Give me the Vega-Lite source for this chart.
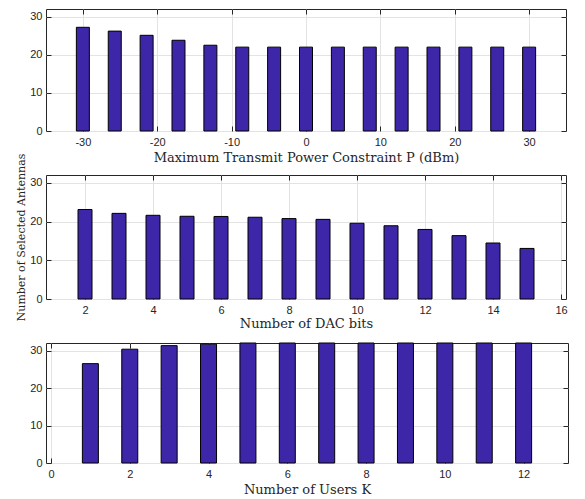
{
  "$schema": "https://vega.github.io/schema/vega-lite/v6.json",
  "background": "white",
  "padding": {"left": 15, "top": 8, "right": 5, "bottom": 5},
  "config": {
    "view": {"stroke": "#262626", "strokeWidth": 1},
    "axis": {
      "labelFont": "Liberation Sans", "labelFontSize": 11, "labelColor": "#262626",
      "titleFont": "DejaVu Serif", "titleFontSize": 13, "titleFontWeight": "normal", "titleColor": "#262626",
      "domain": false, "tickColor": "#262626", "tickSize": -5, "labelPadding": 10,
      "gridColor": "#E3E3E3", "gridWidth": 1
    },
    "concat": {"spacing": 44}
  },
  "bounds": "flush",
  "vconcat": [
    {
      "width": 520, "height": 122,
      "data": {"values": [
        {"p": -30, "n": 27.2}, {"p": -25.714, "n": 26.2}, {"p": -21.429, "n": 25.1},
        {"p": -17.143, "n": 23.8}, {"p": -12.857, "n": 22.5}, {"p": -8.571, "n": 22.0},
        {"p": -4.286, "n": 22.0}, {"p": 0, "n": 22.0}, {"p": 4.286, "n": 22.0},
        {"p": 8.571, "n": 22.0}, {"p": 12.857, "n": 22.0}, {"p": 17.143, "n": 22.0},
        {"p": 21.429, "n": 22.0}, {"p": 25.714, "n": 22.0}, {"p": 30, "n": 22.0}
      ]},
      "layer": [
        {
          "mark": {"type": "bar", "size": 13, "color": "#3E26A8", "stroke": "#000000", "strokeWidth": 1},
          "encoding": {
            "x": {"field": "p", "type": "quantitative", "scale": {"domain": [-34.2857, 34.2857], "nice": false, "zero": false},
                  "axis": {"values": [-30, -20, -10, 0, 10, 20, 30], "labelExpr": "replace(datum.label, '\u2212', '-')", "title": "Maximum Transmit Power Constraint P (dBm)", "titlePadding": 4}},
            "y": {"field": "n", "type": "quantitative", "scale": {"domain": [0, 32], "nice": false},
                  "axis": {"values": [0, 10, 20, 30], "title": null, "labelPadding": 9}}
          }
        },
        {
          "mark": {"type": "bar", "size": 13, "opacity": 0},
          "encoding": {
            "x": {"field": "p", "type": "quantitative", "axis": {"orient": "top", "values": [-30, -20, -10, 0, 10, 20, 30], "labels": false, "grid": false, "title": null}},
            "y": {"field": "n", "type": "quantitative", "axis": {"orient": "right", "values": [0, 10, 20, 30], "labels": false, "grid": false, "title": null}}
          }
        }
      ],
      "resolve": {"axis": {"x": "independent", "y": "independent"}}
    },
    {
      "width": 520, "height": 124,
      "data": {"values": [
        {"b": 2, "n": 23.1}, {"b": 3, "n": 22.1}, {"b": 4, "n": 21.6}, {"b": 5, "n": 21.35},
        {"b": 6, "n": 21.3}, {"b": 7, "n": 21.1}, {"b": 8, "n": 20.75}, {"b": 9, "n": 20.55},
        {"b": 10, "n": 19.55}, {"b": 11, "n": 18.9}, {"b": 12, "n": 17.95}, {"b": 13, "n": 16.35},
        {"b": 14, "n": 14.45}, {"b": 15, "n": 13.05}
      ]},
      "layer": [
        {
          "mark": {"type": "bar", "size": 14, "color": "#3E26A8", "stroke": "#000000", "strokeWidth": 1},
          "encoding": {
            "x": {"field": "b", "type": "quantitative", "scale": {"domain": [1, 16], "nice": false, "zero": false},
                  "axis": {"values": [2, 4, 6, 8, 10, 12, 14, 16], "title": "Number of DAC bits", "titlePadding": 2}},
            "y": {"field": "n", "type": "quantitative", "scale": {"domain": [0, 32], "nice": false},
                  "axis": {"values": [0, 10, 20, 30], "title": "Number of Selected Antennas", "titleFontSize": 11, "titlePadding": 3, "labelPadding": 9}}
          }
        },
        {
          "mark": {"type": "bar", "size": 14, "opacity": 0},
          "encoding": {
            "x": {"field": "b", "type": "quantitative", "axis": {"orient": "top", "values": [2, 4, 6, 8, 10, 12, 14, 16], "labels": false, "grid": false, "title": null}},
            "y": {"field": "n", "type": "quantitative", "axis": {"orient": "right", "values": [0, 10, 20, 30], "labels": false, "grid": false, "title": null}}
          }
        }
      ],
      "resolve": {"axis": {"x": "independent", "y": "independent"}}
    },
    {
      "width": 522, "height": 120,
      "data": {"values": [
        {"k": 1, "n": 26.5}, {"k": 2, "n": 30.35}, {"k": 3, "n": 31.3}, {"k": 4, "n": 31.7},
        {"k": 5, "n": 32}, {"k": 6, "n": 32}, {"k": 7, "n": 32}, {"k": 8, "n": 32},
        {"k": 9, "n": 32}, {"k": 10, "n": 32}, {"k": 11, "n": 32}, {"k": 12, "n": 32}
      ]},
      "layer": [
        {
          "mark": {"type": "bar", "size": 16, "color": "#3E26A8", "stroke": "#000000", "strokeWidth": 1},
          "encoding": {
            "x": {"field": "k", "type": "quantitative", "scale": {"domain": [0, 13], "nice": false, "zero": false},
                  "axis": {"values": [0, 2, 4, 6, 8, 10, 12], "title": "Number of Users K", "titlePadding": 4}},
            "y": {"field": "n", "type": "quantitative", "scale": {"domain": [0, 32], "nice": false},
                  "axis": {"values": [0, 10, 20, 30], "title": null, "labelPadding": 9}}
          }
        },
        {
          "mark": {"type": "bar", "size": 16, "opacity": 0},
          "encoding": {
            "x": {"field": "k", "type": "quantitative", "axis": {"orient": "top", "values": [0, 2, 4, 6, 8, 10, 12], "labels": false, "grid": false, "title": null}},
            "y": {"field": "n", "type": "quantitative", "axis": {"orient": "right", "values": [0, 10, 20, 30], "labels": false, "grid": false, "title": null}}
          }
        }
      ],
      "resolve": {"axis": {"x": "independent", "y": "independent"}}
    }
  ]
}
